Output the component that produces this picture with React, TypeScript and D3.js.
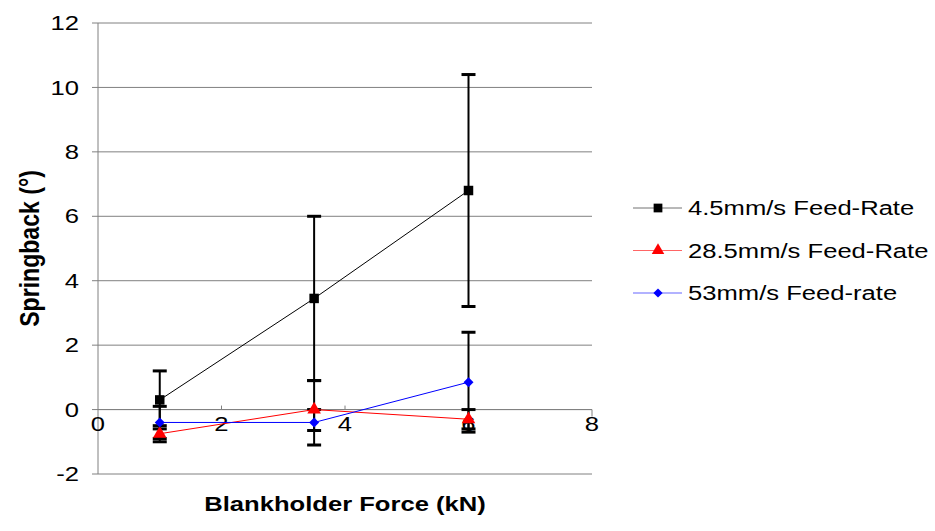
import React from "react";
import * as d3 from "d3";

const forces = [1, 3.5, 6];

const series = [
  {
    name: "4.5mm/s Feed-Rate",
    color: "#000000",
    marker: "square",
    values: [0.3, 3.45, 6.8],
    errPlus: [0.9, 2.55, 3.6],
    errMinus: [0.9, 2.55, 3.6],
  },
  {
    name: "28.5mm/s Feed-Rate",
    color: "#ff0000",
    marker: "triangle",
    values: [-0.75, 0.0, -0.3],
    errPlus: [0.25, 0.9, 0.3],
    errMinus: [0.25, 0.65, 0.3],
  },
  {
    name: "53mm/s Feed-rate",
    color: "#0000ff",
    marker: "diamond",
    values: [-0.4, -0.4, 0.85],
    errPlus: [0.5, 0.4, 1.55],
    errMinus: [0.5, 0.7, 1.55],
  },
];

const xTicks = [0, 2, 4, 6, 8];
const yTicks = [-2, 0, 2, 4, 6, 8, 10, 12];

const W = 935;
const H = 531;
const SX = 1.22; // horizontal stretch of the original picture's text
const FONT = "'Liberation Sans', Arial, sans-serif";

const x = d3.scaleLinear().domain([0, 8]).range([98, 592]);
const y = d3.scaleLinear().domain([-2, 12]).range([474, 23]);

// diamond = square turned 45 degrees
const symbolFor = (m: string) => (m === "triangle" ? d3.symbolTriangle : d3.symbolSquare);
const sizeFor = (m: string) => (m === "square" ? 90 : m === "triangle" ? 80 : 50);
const rotFor = (m: string) => (m === "diamond" ? 45 : 0);

const Txt = ({ x0, y0, anchor, size, bold, children }: any) => (
  <g transform={`translate(${x0},${y0}) scale(${SX},1)`}>
    <text
      textAnchor={anchor}
      dominantBaseline="central"
      fontFamily={FONT}
      fontSize={size}
      fontWeight={bold ? "bold" : "normal"}
      fill="#000"
    >
      {children}
    </text>
  </g>
);

export default function App() {
  const line = d3
    .line<number>()
    .x((_, i) => x(forces[i]))
    .y((d) => y(d));

  return (
    <svg width={W} height={H} style={{ position: "absolute", left: 0, top: 0 }}>
      <rect width={W} height={H} fill="#fff" />
      {/* gridlines */}
      {yTicks.map((t) => (
        <line key={t} x1={x(0)} x2={x(8)} y1={y(t)} y2={y(t)} stroke="#808080" strokeWidth={1} />
      ))}
      {/* y axis */}
      <line x1={x(0)} x2={x(0)} y1={y(12)} y2={y(-2)} stroke="#808080" strokeWidth={1} />
      {yTicks.map((t) => (
        <line key={"yt" + t} x1={x(0) - 6} x2={x(0)} y1={y(t)} y2={y(t)} stroke="#808080" />
      ))}
      {/* x axis at 0 */}
      <line x1={x(0)} x2={x(8)} y1={y(0)} y2={y(0)} stroke="#808080" strokeWidth={1} />
      {xTicks.slice(1, 4).map((t) => (
        <line key={"xt" + t} x1={x(t)} x2={x(t)} y1={y(0) - 4} y2={y(0)} stroke="#808080" />
      ))}
      <line x1={x(8)} x2={x(8)} y1={y(0)} y2={y(0) + 7} stroke="#808080" />

      {/* tick labels */}
      {yTicks.map((t) => (
        <Txt key={"yl" + t} x0={79} y0={y(t)} anchor="end" size={21}>
          {t}
        </Txt>
      ))}
      {xTicks.map((t) => (
        <Txt key={"xl" + t} x0={x(t)} y0={424} anchor="middle" size={21}>
          {t}
        </Txt>
      ))}

      {/* error bars */}
      {series.map((s) =>
        s.values.map((v, i) => {
          const cx = x(forces[i]);
          const hi = v + s.errPlus[i];
          const lo = v - s.errMinus[i];
          return (
            <g key={s.name + i} stroke="#000" strokeWidth={2}>
              <line x1={cx} x2={cx} y1={y(hi)} y2={y(lo)} />
              {s.errPlus[i] > 0 && <line x1={cx - 7} x2={cx + 7} y1={y(hi)} y2={y(hi)} strokeWidth={3} />}
              {s.errMinus[i] > 0 && <line x1={cx - 7} x2={cx + 7} y1={y(lo)} y2={y(lo)} strokeWidth={3} />}
            </g>
          );
        })
      )}

      {/* series lines */}
      {series.map((s) => (
        <path key={s.name} d={line(s.values) || ""} fill="none" stroke={s.color} strokeWidth={1} />
      ))}
      {/* markers */}
      {series.map((s) =>
        s.values.map((v, i) => (
          <path
            key={s.name + "m" + i}
            transform={`translate(${x(forces[i])},${y(v)}) rotate(${rotFor(s.marker)})`}
            d={d3.symbol().type(symbolFor(s.marker)).size(sizeFor(s.marker))() || ""}
            fill={s.color}
          />
        ))
      )}

      {/* axis titles */}
      <Txt x0={345} y0={504} anchor="middle" size={21} bold>
        Blankholder Force (kN)
      </Txt>
      <g transform={`translate(29,${y(5)}) rotate(-90)`}>
        <text
          textAnchor="middle"
          dominantBaseline="central"
          fontFamily={FONT}
          fontSize={22}
          fontWeight="bold"
          transform={`scale(1.05,${SX})`}
        >
          Springback (°)
        </text>
      </g>

      {/* legend */}
      {series.map((s, i) => {
        const ly = 208 + i * 42.5;
        return (
          <g key={"lg" + s.name}>
            <line x1={633} x2={682} y1={ly} y2={ly} stroke={s.color} strokeWidth={1} opacity={s.marker === "square" ? 0.55 : 0.6} />
            <path
              transform={`translate(658,${ly}) rotate(${rotFor(s.marker)})`}
              d={d3.symbol().type(symbolFor(s.marker)).size(sizeFor(s.marker) * 0.85)() || ""}
              fill={s.color}
            />
            <Txt x0={688} y0={ly} anchor="start" size={21}>
              {s.name}
            </Txt>
          </g>
        );
      })}
    </svg>
  );
}
